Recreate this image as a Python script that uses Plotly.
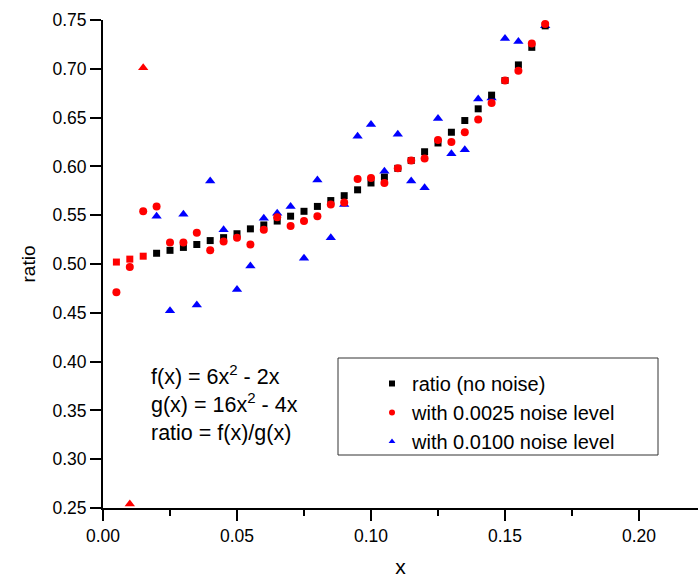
import plotly.graph_objects as go

x_vals = [0.005, 0.010, 0.015, 0.020, 0.025, 0.030, 0.035, 0.040, 0.045, 0.050,
          0.055, 0.060, 0.065, 0.070, 0.075, 0.080, 0.085, 0.090, 0.095, 0.100,
          0.105, 0.110, 0.115, 0.120, 0.125, 0.130, 0.135, 0.140, 0.145, 0.150,
          0.155, 0.160, 0.165]

ratio_no_noise = [0.502, 0.505, 0.508, 0.511, 0.514, 0.517, 0.520, 0.524, 0.527, 0.531,
                  0.536, 0.540, 0.544, 0.549, 0.554, 0.559, 0.565, 0.570, 0.576, 0.583,
                  0.589, 0.598, 0.606, 0.615, 0.624, 0.635, 0.647, 0.659, 0.673, 0.688,
                  0.704, 0.722, 0.744]

ratio_noise_0025 = [0.471, 0.497, 0.554, 0.559, 0.522, 0.522, 0.532, 0.514, 0.523, 0.527,
                    0.520, 0.535, 0.548, 0.539, 0.544, 0.549, 0.561, 0.563, 0.587, 0.588,
                    0.583, 0.598, 0.606, 0.608, 0.627, 0.625, 0.635, 0.648, 0.665, 0.688,
                    0.698, 0.726, 0.746]

ratio_noise_0100 = [None, 0.254, 0.701, 0.549, 0.452, 0.551, 0.458, 0.585, 0.535, 0.474,
                    0.498, 0.547, 0.552, 0.559, 0.506, 0.586, 0.527, 0.561, 0.631, 0.643,
                    0.595, 0.633, 0.585, 0.578, 0.649, 0.613, 0.617, 0.669, 0.670, 0.731,
                    0.728, None, 0.744]

series_names = ["ratio (no noise)", "with 0.0025 noise level", "with 0.0100 noise level"]
x_tick_vals = [0.00, 0.05, 0.10, 0.15, 0.20]
y_tick_vals = [0.25, 0.30, 0.35, 0.40, 0.45, 0.50, 0.55, 0.60, 0.65, 0.70, 0.75]
formula_lines = ["f(x) = 6x<sup>2</sup> - 2x", "g(x) = 16x<sup>2</sup> - 4x", "ratio = f(x)/g(x)"]

FONT = "Arial, 'Liberation Sans', sans-serif"

# points drawn in red in the original figure (first points of the series)
black_colors = ["red" if i < 3 else "black" for i in range(len(x_vals))]
blue_colors = ["red" if i in (1, 2) else "blue" for i in range(len(x_vals))]

fig = go.Figure()

fig.add_trace(go.Scatter(x=x_vals, y=ratio_noise_0100, mode="markers", showlegend=False,
                         marker=dict(symbol="triangle-up", size=9, color=blue_colors, line=dict(width=0)),
                         cliponaxis=False))
fig.add_trace(go.Scatter(x=x_vals, y=ratio_no_noise, mode="markers", showlegend=False,
                         marker=dict(symbol="square", size=7, color=black_colors, line=dict(width=0)),
                         cliponaxis=False))
fig.add_trace(go.Scatter(x=x_vals, y=ratio_noise_0025, mode="markers", showlegend=False,
                         marker=dict(symbol="circle", size=8, color="red", line=dict(width=0)),
                         cliponaxis=False))

# legend entries
for name, sym, col in zip(series_names, ["square", "circle", "triangle-up"], ["black", "red", "blue"]):
    fig.add_trace(go.Scatter(x=[None], y=[None], mode="markers", name=name,
                             marker=dict(symbol=sym, size=6, color=col, line=dict(width=0))))

fig.add_annotation(xref="paper", yref="paper", x=0.077, y=0.305, xanchor="left", yanchor="top",
                   text="<br>".join(formula_lines), showarrow=False, align="left",
                   font=dict(family=FONT, size=21.5, color="black"))

# legend frame
fig.add_shape(type="rect", xref="paper", yref="paper",
              x0=(338 - 103) / 595, x1=(658 - 103) / 595,
              y0=(508 - 455) / 488, y1=(508 - 358) / 488,
              line=dict(color="#333333", width=1), fillcolor="rgba(0,0,0,0)")

axis_common = dict(showline=True, linecolor="black", linewidth=2, ticks="outside",
                   ticklen=11, tickwidth=2, tickcolor="black", showgrid=False, zeroline=False,
                   tickfont=dict(family=FONT, size=17.5, color="black"), tickformat=".2f")

fig.update_xaxes(range=[0, (698 - 103) / 2680], tickvals=x_tick_vals,
                 minor=dict(ticks="outside", ticklen=6, tickwidth=2, tickcolor="black", dtick=0.025, tick0=0),
                 title=dict(text="x", font=dict(family=FONT, size=21, color="black"), standoff=16),
                 **axis_common)
fig.update_yaxes(range=[0.25, 0.75], tickvals=y_tick_vals,
                 title=dict(text="ratio", font=dict(family=FONT, size=19, color="black"), standoff=12),
                 **axis_common)

fig.update_layout(
    width=698, height=578,
    margin=dict(l=103, r=0, t=20, b=70),
    paper_bgcolor="white", plot_bgcolor="white",
    font=dict(family=FONT, color="black"),
    legend=dict(x=(372 - 103) / 595, y=(508 - 364) / 488, xanchor="left", yanchor="top",
                bgcolor="rgba(0,0,0,0)", borderwidth=0,
                font=dict(family=FONT, size=20, color="black"), tracegroupgap=0, itemwidth=30),
)

fig.write_html("out.html")
